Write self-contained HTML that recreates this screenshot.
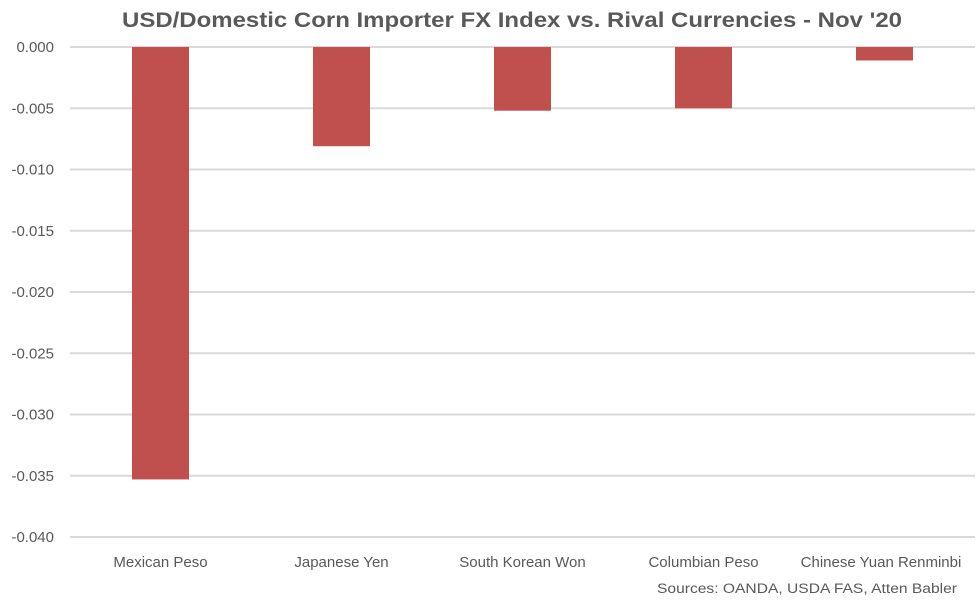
<!DOCTYPE html>
<html><head><meta charset="utf-8"><style>
body{margin:0;background:#fff;}
svg text{font-family:"Liberation Sans",sans-serif;fill:#595959;}
</style></head><body>
<svg id="chart" width="976" height="601" xmlns="http://www.w3.org/2000/svg">
<text x="512" y="27" text-anchor="middle" font-size="21" font-weight="bold" textLength="780" lengthAdjust="spacingAndGlyphs">USD/Domestic Corn Importer FX Index vs. Rival Currencies - Nov '20</text>
<g id="grid"></g><g id="bars"></g><g id="xlabels"></g>
<text x="957" y="593" text-anchor="end" font-size="13.5" textLength="300" lengthAdjust="spacingAndGlyphs">Sources: OANDA, USDA FAS, Atten Babler</text>
</svg>
<script>
const categories=["Mexican Peso","Japanese Yen","South Korean Won","Columbian Peso","Chinese Yuan Renminbi"];
const values=[-0.0353,-0.0081,-0.0052,-0.0050,-0.0011];
const ticks=[0,-0.005,-0.010,-0.015,-0.020,-0.025,-0.030,-0.035,-0.040];
const tickLabels=["0.000","-0.005","-0.010","-0.015","-0.020","-0.025","-0.030","-0.035","-0.040"];
const NS="http://www.w3.org/2000/svg";
const x0=70,x1=975,y0=47,y1=537;
const y=v=>y0+(0-v)/0.04*(y1-y0);
const bw=(x1-x0)/categories.length;
const xc=i=>x0+bw*(i+0.5);
const grid=document.getElementById('grid'),bars=document.getElementById('bars'),xl=document.getElementById('xlabels');
ticks.forEach((t,i)=>{
 const l=document.createElementNS(NS,'line');
 
 
 l.setAttribute('x1',x0);l.setAttribute('x2',x1);l.setAttribute('y1',y(t));l.setAttribute('y2',y(t));
 l.setAttribute('stroke','#d9d9d9');l.setAttribute('stroke-width','2');
 grid.appendChild(l);
 const tx=document.createElementNS(NS,'text');
 
 
 tx.setAttribute('x',54);tx.setAttribute('y',y(t)+5);tx.setAttribute('text-anchor','end');tx.setAttribute('font-size','15');
 tx.textContent=tickLabels[i];grid.appendChild(tx);
});
categories.forEach((c,i)=>{
 const r=document.createElementNS(NS,'rect');
 
 
 const top=Math.min(y(0),y(values[i])),h=Math.abs(y(values[i])-y(0));
 r.setAttribute('x',xc(i)-28.5);r.setAttribute('width',57);r.setAttribute('y',top);r.setAttribute('height',h);
 r.setAttribute('fill','#C0504D');bars.appendChild(r);
 const t=document.createElementNS(NS,'text');
 
 
 t.setAttribute('x',Math.min(xc(i),i==4?881:9999));t.setAttribute('y',567);t.setAttribute('text-anchor','middle');t.setAttribute('font-size','15');
 t.textContent=c;xl.appendChild(t);
});
</script>
</body></html>
